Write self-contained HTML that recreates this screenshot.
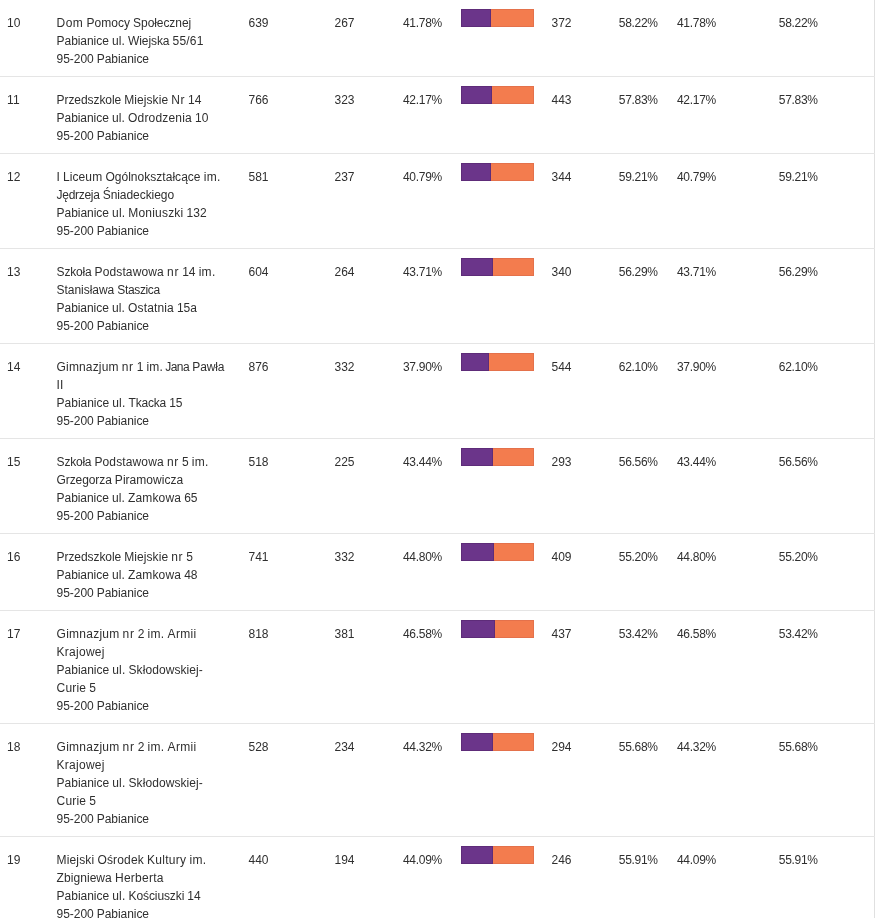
<!DOCTYPE html><html lang="pl"><head><meta charset="utf-8"><title>Wyniki</title><style>
html,body{margin:0;padding:0;background:#fff;}
body{width:875px;height:918px;overflow:hidden;font-family:"Liberation Sans",sans-serif;font-size:12px;line-height:18px;color:#2f2f2f;}
table{border-collapse:collapse;table-layout:fixed;width:874px;border-right:1px solid #e0e0e0;margin-top:-1px;will-change:transform;}
td{padding:14px 0 8px 7px;vertical-align:top;border-top:1px solid #e5e5e5;border-bottom:1px solid #e5e5e5;white-space:nowrap;overflow:hidden;}
td.n{padding-left:7.6px;}
td.d{padding-left:8.5px;}
td.d7{padding-left:7.5px;}
td.k{padding-left:7.1px;}
td.p{letter-spacing:-.3px;}
td.b{padding:9px 0 0 7px;}
td.p5{padding-left:9px;}
td.p8{padding-left:8.8px;}
td.p9{padding-left:8px;}
td.p10{padding-left:7.8px;}
.bar{width:73px;height:18px;background:#f37c4e;box-shadow:inset 0 0 0 1px rgba(120,40,60,.12);}
.bar i{display:block;height:18px;background:#6b358a;box-shadow:inset 0 0 0 1px rgba(30,0,40,.16);}
span.l{word-spacing:-.21px;}

</style></head><body><table><colgroup>
<col style="width:49px">
<col style="width:191px">
<col style="width:86px">
<col style="width:68px">
<col style="width:60px">
<col style="width:90px">
<col style="width:66px">
<col style="width:59px">
<col style="width:102px">
<col style="width:103px">
</colgroup><tbody>
<tr><td class="k">10</td><td class="n"><span class="l"><span style="letter-spacing:0.44px">Dom</span> <span style="letter-spacing:0.04px">Pomocy</span> <span style="letter-spacing:-0.07px">Społecznej</span></span><br><span class="l"><span style="letter-spacing:-0.06px">Pabianice</span> <span style="letter-spacing:0.12px">ul.</span> <span style="letter-spacing:-0.09px">Wiejska</span> <span style="letter-spacing:0.18px">55/61</span></span><br><span class="l"><span style="letter-spacing:-0.05px">95-200</span> <span style="letter-spacing:-0.06px">Pabianice</span></span></td><td class="d">639</td><td class="d">267</td><td class="p p5">41.78%</td><td class="b"><div class="bar"><i style="width:41.78%"></i></div></td><td class="d d7">372</td><td class="p p8">58.22%</td><td class="p p9">41.78%</td><td class="p p10">58.22%</td></tr>
<tr><td class="k">11</td><td class="n"><span class="l"><span style="letter-spacing:-0.08px">Przedszkole</span> <span style="letter-spacing:0.08px">Miejskie</span> <span style="letter-spacing:0.46px">Nr</span> 14</span><br><span class="l"><span style="letter-spacing:-0.06px">Pabianice</span> <span style="letter-spacing:0.12px">ul.</span> <span style="letter-spacing:0.18px">Odrodzenia</span> 10</span><br><span class="l"><span style="letter-spacing:-0.05px">95-200</span> <span style="letter-spacing:-0.06px">Pabianice</span></span></td><td class="d">766</td><td class="d">323</td><td class="p p5">42.17%</td><td class="b"><div class="bar"><i style="width:42.17%"></i></div></td><td class="d d7">443</td><td class="p p8">57.83%</td><td class="p p9">42.17%</td><td class="p p10">57.83%</td></tr>
<tr><td class="k">12</td><td class="n"><span class="l"><span style="letter-spacing:-0.15px">I</span> <span style="letter-spacing:0.11px">Liceum</span> <span style="letter-spacing:0.03px">Ogólnokształcące</span> <span style="letter-spacing:0.32px">im.</span></span><br><span class="l"><span style="letter-spacing:-0.30px">Jędrzeja</span> <span style="letter-spacing:-0.06px">Śniadeckiego</span></span><br><span class="l"><span style="letter-spacing:-0.04px">Pabianice</span> <span style="letter-spacing:0.14px">ul.</span> <span style="letter-spacing:0.19px">Moniuszki</span> <span style="letter-spacing:0.02px">132</span></span><br><span class="l"><span style="letter-spacing:-0.05px">95-200</span> <span style="letter-spacing:-0.06px">Pabianice</span></span></td><td class="d">581</td><td class="d">237</td><td class="p p5">40.79%</td><td class="b"><div class="bar"><i style="width:40.79%"></i></div></td><td class="d d7">344</td><td class="p p8">59.21%</td><td class="p p9">40.79%</td><td class="p p10">59.21%</td></tr>
<tr><td class="k">13</td><td class="n"><span class="l"><span style="letter-spacing:-0.21px">Szkoła</span> <span style="letter-spacing:0.14px">Podstawowa</span> <span style="letter-spacing:0.64px">nr</span> <span style="letter-spacing:0.02px">14</span> <span style="letter-spacing:0.30px">im.</span></span><br><span class="l"><span style="letter-spacing:-0.05px">Stanisława</span> <span style="letter-spacing:-0.35px">Staszica</span></span><br><span class="l"><span style="letter-spacing:-0.06px">Pabianice</span> <span style="letter-spacing:0.12px">ul.</span> <span style="letter-spacing:0.14px">Ostatnia</span> <span style="letter-spacing:-0.06px">15a</span></span><br><span class="l"><span style="letter-spacing:-0.05px">95-200</span> <span style="letter-spacing:-0.06px">Pabianice</span></span></td><td class="d">604</td><td class="d">264</td><td class="p p5">43.71%</td><td class="b"><div class="bar"><i style="width:43.71%"></i></div></td><td class="d d7">340</td><td class="p p8">56.29%</td><td class="p p9">43.71%</td><td class="p p10">56.29%</td></tr>
<tr><td class="k">14</td><td class="n"><span class="l"><span style="letter-spacing:0.15px">Gimnazjum</span> <span style="letter-spacing:0.56px">nr</span> <span style="letter-spacing:-0.06px">1</span> <span style="letter-spacing:0.23px">im.</span> <span style="letter-spacing:-0.50px;margin-left:-1.06px">Jana</span> <span style="letter-spacing:-0.13px">Pawła</span></span><br><span class="l"><span style="letter-spacing:0.16px">II</span></span><br><span class="l"><span style="letter-spacing:-0.02px">Pabianice</span> <span style="letter-spacing:0.16px">ul.</span> <span style="letter-spacing:-0.20px">Tkacka</span> <span style="letter-spacing:0.04px">15</span></span><br><span class="l"><span style="letter-spacing:-0.05px">95-200</span> <span style="letter-spacing:-0.06px">Pabianice</span></span></td><td class="d">876</td><td class="d">332</td><td class="p p5">37.90%</td><td class="b"><div class="bar"><i style="width:37.90%"></i></div></td><td class="d d7">544</td><td class="p p8">62.10%</td><td class="p p9">37.90%</td><td class="p p10">62.10%</td></tr>
<tr><td class="k">15</td><td class="n"><span class="l"><span style="letter-spacing:-0.22px">Szkoła</span> <span style="letter-spacing:0.13px">Podstawowa</span> <span style="letter-spacing:0.62px">nr</span> 5 <span style="letter-spacing:0.29px">im.</span></span><br><span class="l"><span style="letter-spacing:-0.10px">Grzegorza</span> <span style="letter-spacing:0.03px">Piramowicza</span></span><br><span class="l"><span style="letter-spacing:-0.06px">Pabianice</span> <span style="letter-spacing:0.12px">ul.</span> <span style="letter-spacing:0.14px">Zamkowa</span> 65</span><br><span class="l"><span style="letter-spacing:-0.05px">95-200</span> <span style="letter-spacing:-0.06px">Pabianice</span></span></td><td class="d">518</td><td class="d">225</td><td class="p p5">43.44%</td><td class="b"><div class="bar"><i style="width:43.44%"></i></div></td><td class="d d7">293</td><td class="p p8">56.56%</td><td class="p p9">43.44%</td><td class="p p10">56.56%</td></tr>
<tr><td class="k">16</td><td class="n"><span class="l"><span style="letter-spacing:-0.08px">Przedszkole</span> <span style="letter-spacing:0.08px">Miejskie</span> <span style="letter-spacing:0.62px">nr</span> 5</span><br><span class="l"><span style="letter-spacing:-0.06px">Pabianice</span> <span style="letter-spacing:0.12px">ul.</span> <span style="letter-spacing:0.14px">Zamkowa</span> 48</span><br><span class="l"><span style="letter-spacing:-0.05px">95-200</span> <span style="letter-spacing:-0.06px">Pabianice</span></span></td><td class="d">741</td><td class="d">332</td><td class="p p5">44.80%</td><td class="b"><div class="bar"><i style="width:44.80%"></i></div></td><td class="d d7">409</td><td class="p p8">55.20%</td><td class="p p9">44.80%</td><td class="p p10">55.20%</td></tr>
<tr><td class="k">17</td><td class="n"><span class="l"><span style="letter-spacing:0.24px">Gimnazjum</span> <span style="letter-spacing:0.65px">nr</span> <span style="letter-spacing:0.03px">2</span> <span style="letter-spacing:0.32px">im.</span> <span style="letter-spacing:0.33px">Armii</span></span><br><span class="l"><span style="letter-spacing:0.26px">Krajowej</span></span><br><span class="l"><span style="letter-spacing:-0.02px">Pabianice</span> <span style="letter-spacing:0.16px">ul.</span> <span style="letter-spacing:0.07px">Skłodowskiej-</span></span><br><span class="l"><span style="letter-spacing:0.15px">Curie</span> <span style="letter-spacing:0.14px">5</span></span><br><span class="l"><span style="letter-spacing:-0.05px">95-200</span> <span style="letter-spacing:-0.06px">Pabianice</span></span></td><td class="d">818</td><td class="d">381</td><td class="p p5">46.58%</td><td class="b"><div class="bar"><i style="width:46.58%"></i></div></td><td class="d d7">437</td><td class="p p8">53.42%</td><td class="p p9">46.58%</td><td class="p p10">53.42%</td></tr>
<tr><td class="k">18</td><td class="n"><span class="l"><span style="letter-spacing:0.24px">Gimnazjum</span> <span style="letter-spacing:0.65px">nr</span> <span style="letter-spacing:0.03px">2</span> <span style="letter-spacing:0.32px">im.</span> <span style="letter-spacing:0.33px">Armii</span></span><br><span class="l"><span style="letter-spacing:0.26px">Krajowej</span></span><br><span class="l"><span style="letter-spacing:-0.02px">Pabianice</span> <span style="letter-spacing:0.16px">ul.</span> <span style="letter-spacing:0.07px">Skłodowskiej-</span></span><br><span class="l"><span style="letter-spacing:0.15px">Curie</span> <span style="letter-spacing:0.14px">5</span></span><br><span class="l"><span style="letter-spacing:-0.05px">95-200</span> <span style="letter-spacing:-0.06px">Pabianice</span></span></td><td class="d">528</td><td class="d">234</td><td class="p p5">44.32%</td><td class="b"><div class="bar"><i style="width:44.32%"></i></div></td><td class="d d7">294</td><td class="p p8">55.68%</td><td class="p p9">44.32%</td><td class="p p10">55.68%</td></tr>
<tr><td class="k">19</td><td class="n"><span class="l"><span style="letter-spacing:0.14px">Miejski</span> <span style="letter-spacing:0.17px">Ośrodek</span> <span style="letter-spacing:0.27px">Kultury</span> <span style="letter-spacing:0.31px">im.</span></span><br><span class="l"><span style="letter-spacing:0.06px">Zbigniewa</span> <span style="letter-spacing:0.27px">Herberta</span></span><br><span class="l"><span style="letter-spacing:-0.02px">Pabianice</span> <span style="letter-spacing:0.16px">ul.</span> <span style="letter-spacing:-0.10px">Kościuszki</span> <span style="letter-spacing:0.04px">14</span></span><br><span class="l"><span style="letter-spacing:-0.05px">95-200</span> <span style="letter-spacing:-0.06px">Pabianice</span></span></td><td class="d">440</td><td class="d">194</td><td class="p p5">44.09%</td><td class="b"><div class="bar"><i style="width:44.09%"></i></div></td><td class="d d7">246</td><td class="p p8">55.91%</td><td class="p p9">44.09%</td><td class="p p10">55.91%</td></tr>
</tbody></table></body></html>
